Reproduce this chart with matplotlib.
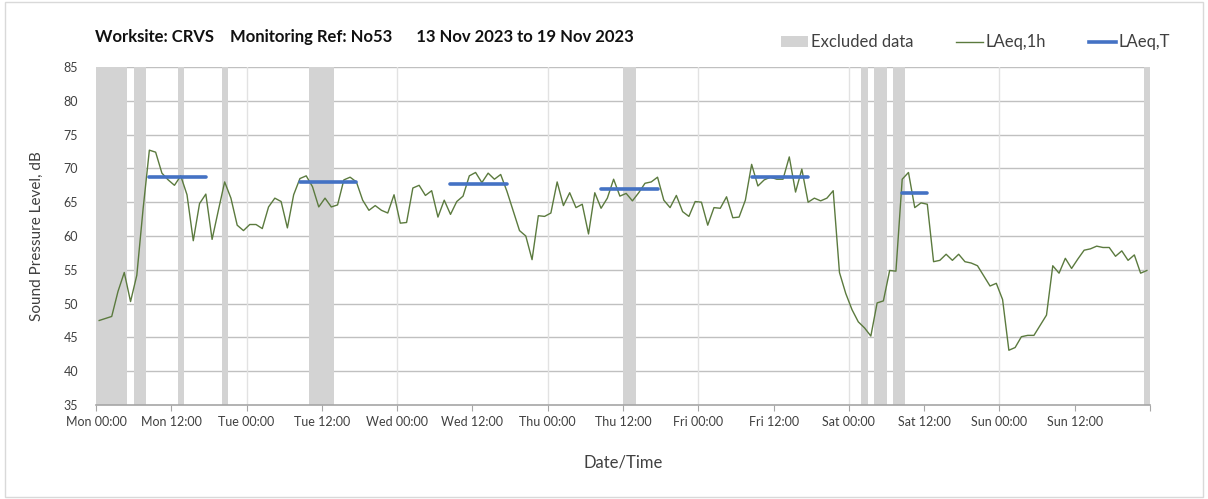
import matplotlib
matplotlib.use('Agg')
import matplotlib.pyplot as plt
from matplotlib.patches import Patch, Rectangle
from matplotlib.lines import Line2D

plt.rcParams['font.family'] = ['Lato', 'DejaVu Sans']

# hourly LAeq,1h values, Mon 00:00 .. Sun 23:00
laeq_1h = [
    47.5, 47.8, 48.1, 51.8, 54.6, 50.3, 54.2, 64.0, 72.7, 72.4, 69.3, 68.3,
    67.5, 68.9, 66.1, 59.3, 64.8, 66.2, 59.5, 63.8, 68.0, 65.6, 61.6, 60.8,
    61.7, 61.7, 61.1, 64.3, 65.6, 65.1, 61.2, 66.1, 68.5, 68.9, 67.3, 64.3,
    65.6, 64.3, 64.6, 68.3, 68.7, 68.0, 65.3, 63.8, 64.5, 63.8, 63.4, 66.1,
    61.9, 62.0, 67.1, 67.5, 66.0, 66.7, 62.8, 65.3, 63.2, 65.1, 65.9, 68.9,
    69.4, 67.9, 69.3, 68.4, 69.1, 66.6, 63.7, 60.8, 60.0, 56.5, 63.0, 62.9,
    63.4, 68.0, 64.5, 66.4, 64.2, 64.7, 60.3, 66.4, 64.1, 65.6, 68.4, 65.9,
    66.3, 65.2, 66.4, 67.8, 68.0, 68.7, 65.3, 64.2, 66.0, 63.6, 62.9, 65.1,
    65.0, 61.6, 64.2, 64.1, 65.8, 62.7, 62.8, 65.3, 70.6, 67.4, 68.3, 68.7,
    68.4, 68.4, 71.7, 66.5, 69.9, 65.0, 65.6, 65.2, 65.6, 66.7, 54.6, 51.5,
    49.1, 47.3, 46.4, 45.2, 50.1, 50.4, 54.9, 54.8, 68.4, 69.4, 64.2, 64.9,
    64.7, 56.2, 56.4, 57.3, 56.4, 57.3, 56.2, 56.0, 55.6, 54.1, 52.6, 53.0,
    50.6, 43.1, 43.5, 45.1, 45.3, 45.3, 46.8, 48.3, 55.6, 54.5, 56.7, 55.2,
    56.6, 57.9, 58.1, 58.5, 58.3, 58.3, 57.0, 57.8, 56.4, 57.2, 54.5, 54.9,
]

# LAeq,T over daytime periods (hour offsets from Mon 00:00)
laeq_t_start = [8, 32, 56, 80, 104, 128]
laeq_t_end = [18, 42, 66, 90, 114, 133]
laeq_t = [68.7, 68.0, 67.7, 67.0, 68.8, 66.4]

# excluded periods (hour offsets)
excl_start = [0, 6, 13, 20, 34, 84, 122, 124, 127, 167]
excl_end = [5, 8, 14, 21, 38, 86, 123, 126, 129, 168]

days = ['Mon', 'Tue', 'Wed', 'Thu', 'Fri', 'Sat', 'Sun']
tick_labels = [f'{d} {t}' for d in days for t in ['00:00', '12:00']] + ['']

green = '#5b7a3e'
blue = '#4472c4'
grey_band = '#d3d3d3'
txt = '#404040'

fig = plt.figure(figsize=(12.08, 4.99), dpi=100)
ax = fig.add_axes([0.0795, 0.1884, 0.8725, 0.6773])

for s, e in zip(excl_start, excl_end):
    ax.axvspan(s, e, color=grey_band, lw=0, zorder=1)

hours = [h + 0.5 for h in range(len(laeq_1h))]
ax.plot(hours, laeq_1h, color=green, lw=1.0, zorder=3)

for s, e, v in zip(laeq_t_start, laeq_t_end, laeq_t):
    ax.plot([s + 0.5, e - 0.5], [v, v], color=blue, lw=2.6,
            solid_capstyle='round', zorder=4)

ax.set_xlim(0, 168)
ax.set_ylim(35, 85)
ax.set_yticks(range(35, 90, 5))
ax.set_xticks(range(0, 169, 12))
ax.set_xticklabels(tick_labels)

for y in range(40, 90, 5):
    ax.axhline(y, color='#c0c0c0', lw=1.0, zorder=0)
for x in range(24, 168, 24):
    ax.axvline(x, color='#e2e2e2', lw=1.0, zorder=0)

for side in ['top', 'right', 'left']:
    ax.spines[side].set_visible(False)
ax.spines['bottom'].set_color('#a6a6a6')
ax.spines['bottom'].set_linewidth(1.2)
ax.tick_params(axis='x', colors='#a6a6a6', length=4, labelcolor=txt,
               labelsize=9, pad=4)
ax.tick_params(axis='y', length=0, labelcolor=txt, labelsize=9, pad=13)

ax.set_xlabel('Date/Time', fontsize=12, color=txt, labelpad=19)
ax.set_ylabel('Sound Pressure Level, dB', fontsize=11, color=txt, labelpad=14)

fig.text(0.0786, 0.925,
         'Worksite: CRVS    Monitoring Ref: No53      13 Nov 2023 to 19 Nov 2023',
         fontsize=12, fontweight='bold', color='#111111', va='center')

handles = [
    Patch(facecolor=grey_band, edgecolor='none', label='Excluded data'),
    Line2D([], [], color=green, lw=1.0, label='LAeq,1h'),
    Line2D([], [], color=blue, lw=2.6, label='LAeq,T'),
]
fig.legend(handles=handles, loc='center right', bbox_to_anchor=(0.981, 0.915),
           ncol=3, frameon=False, fontsize=12, handlelength=1.6,
           handletextpad=0.15, columnspacing=2.6, labelcolor=txt)

fig.patches.append(Rectangle((0.004, 0.004), 0.992, 0.992, transform=fig.transFigure,
                             fill=False, edgecolor='#d9d9d9', lw=1.0))

fig.savefig('out.png', dpi=100)
